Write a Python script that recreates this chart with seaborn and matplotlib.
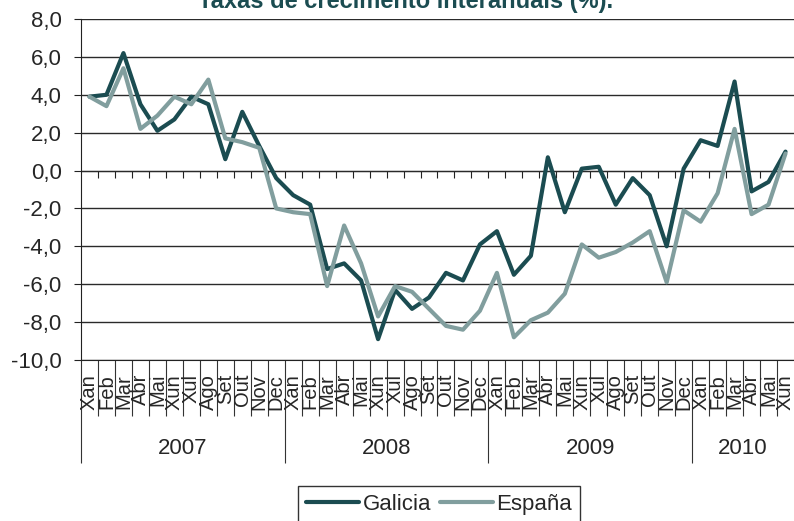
import numpy as np
import pandas as pd
import matplotlib
matplotlib.use("Agg")
import matplotlib.pyplot as plt
from matplotlib.ticker import FuncFormatter
import seaborn as sns

# Datos: taxas de crecimento interanuais (%)
meses = ["Xan", "Feb", "Mar", "Abr", "Mai", "Xun", "Xul", "Ago", "Set", "Out", "Nov", "Dec"]
anos = ["2007", "2008", "2009", "2010"]
meses_por_ano = [12, 12, 12, 6]

galicia = [3.9, 4.0, 6.2, 3.5, 2.1, 2.7, 3.9, 3.5, 0.6, 3.1, 1.3, -0.4,
           -1.3, -1.8, -5.2, -4.9, -5.8, -8.9, -6.3, -7.3, -6.7, -5.4, -5.8, -3.9,
           -3.2, -5.5, -4.5, 0.7, -2.2, 0.1, 0.2, -1.8, -0.4, -1.3, -4.0, 0.1,
           1.6, 1.3, 4.7, -1.1, -0.6, 1.0]
espana = [3.9, 3.4, 5.4, 2.2, 2.9, 3.9, 3.5, 4.8, 1.7, 1.5, 1.2, -2.0,
          -2.2, -2.3, -6.1, -2.9, -4.9, -7.7, -6.1, -6.4, -7.3, -8.2, -8.4, -7.4,
          -5.4, -8.8, -7.9, -7.5, -6.5, -3.9, -4.6, -4.3, -3.8, -3.2, -5.9, -2.1,
          -2.7, -1.2, 2.2, -2.3, -1.8, 0.9]

etiquetas = [m for n in meses_por_ano for m in meses[:n]]
n = len(etiquetas)
df = pd.DataFrame({
    "pos": list(range(n)) * 2,
    "valor": galicia + espana,
    "serie": ["Galicia"] * n + ["España"] * n,
})

sns.set_style("white")
plt.rcParams["font.family"] = ["Liberation Sans", "DejaVu Sans"]

fig = plt.figure(figsize=(7.94, 5.21), dpi=100)
ax = fig.add_axes([81 / 794, 1 - 360 / 521, 1 - 81 / 794, (360 - 19) / 521])

sns.lineplot(data=df, x="pos", y="valor", hue="serie", hue_order=["Galicia", "España"],
             palette={"Galicia": "#1b4c51", "España": "#819e9e"}, linewidth=3, ax=ax)

ymin, ymax = -10, 8
ax.set_xlim(-0.5, n - 0.5)
ax.set_ylim(ymin, ymax)
ax.set_yticks(np.arange(ymin, ymax + 0.1, 2))
ax.yaxis.set_major_formatter(FuncFormatter(lambda v, p: f"{v:.1f}".replace(".", ",")))
ax.grid(axis="y", color="#2a2a2a", linewidth=1)
ax.set_xlabel("")
ax.set_ylabel("")
for s in ["top", "right"]:
    ax.spines[s].set_visible(False)
for s in ["left", "bottom"]:
    ax.spines[s].set_color("#222222")
ax.tick_params(axis="y", left=True, direction="out", length=5, width=0.8,
               labelsize=16, pad=9, color="#222222")

# separadores de meses e anos baixo o eixo
cortes = np.cumsum([0] + meses_por_ano[:-1]) - 0.5
limites = np.arange(0.5, n - 0.5, 1)
ax.set_xticks(cortes)
ax.set_xticks(limites, minor=True)
ax.tick_params(axis="x", which="major", bottom=True, direction="out", length=74,
               width=0.8, color="#333333", labelbottom=False)
ax.tick_params(axis="x", which="minor", bottom=True, direction="out", length=40,
               width=0.8, color="#333333")

for i, et in enumerate(etiquetas):
    ax.annotate(et, xy=(i, 0), xycoords=("data", "axes fraction"), xytext=(0, -10),
                textcoords="offset points", rotation=90, ha="center", va="top",
                fontsize=14.5, annotation_clip=False)

inicio = 0
for ano, cnt in zip(anos, meses_por_ano):
    ax.annotate(ano, xy=(inicio + (cnt - 1) / 2, 0), xycoords=("data", "axes fraction"),
                xytext=(0, -64), textcoords="offset points", ha="center", va="center",
                fontsize=16, annotation_clip=False)
    inicio += cnt

# marcas na liña do cero
sec = ax.secondary_xaxis((0 - ymin) / (ymax - ymin))
sec.set_xticks(limites)
sec.tick_params(axis="x", direction="in", length=5, width=0.8, color="#222222",
                labeltop=False, labelbottom=False)
for sp in sec.spines.values():
    sp.set_color("#222222")

handles, labels = ax.get_legend_handles_labels()
ax.get_legend().remove()
leg = fig.legend(handles, labels, loc="upper center", bbox_to_anchor=(439 / 794, 1 - 486 / 521),
                 ncol=2, frameon=True, fontsize=16, handlelength=2.4, handletextpad=0.15,
                 columnspacing=0.4, borderpad=0.35, borderaxespad=0, fancybox=False,
                 edgecolor="black")
leg.get_frame().set_linewidth(1)

fig.text(406 / 794, 1 - 8 / 521, "Taxas de crecimento interanuais (%).", ha="center",
         va="baseline", fontsize=17, fontweight="bold", color="#1b4c51")

fig.savefig("out.png", dpi=100)
